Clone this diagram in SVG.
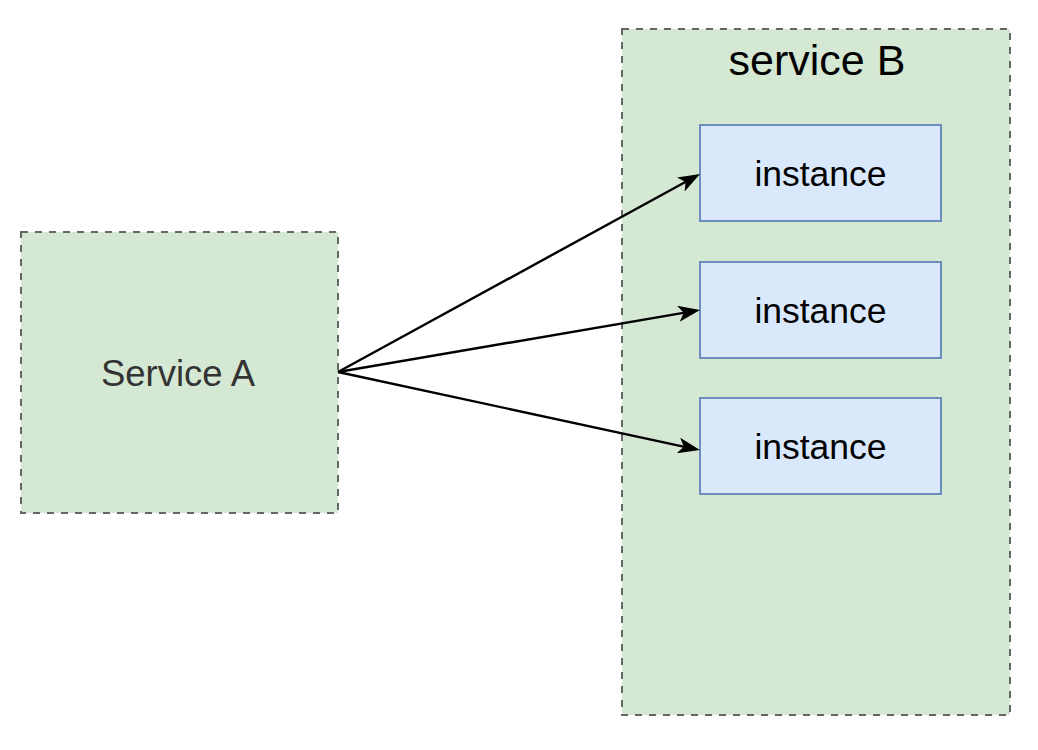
<svg xmlns="http://www.w3.org/2000/svg" width="1038" height="750" viewBox="0 0 1038 750">
  <style>
    .svc { fill: #d5e8d4; stroke: #666666; stroke-width: 2; stroke-dasharray: 7 7; }
    .inst { fill: #dae8fc; stroke: #6c8ebf; stroke-width: 2; }
    .lbl { font-family: "Liberation Sans", Arial, sans-serif; text-anchor: middle; }
    .edge { fill: none; stroke: #000000; stroke-width: 2.4; marker-end: url(#arrow); }
  </style>
  <defs>
    <marker id="arrow" viewBox="0 0 22 16" refX="11" refY="8" markerWidth="22" markerHeight="16" markerUnits="userSpaceOnUse" orient="auto">
      <path d="M0,0 L22,8 L0,16 L5.5,8 Z" fill="#000000"/>
    </marker>
  </defs>
  <rect width="1038" height="750" fill="#ffffff"/>
  <g id="service-a">
    <rect class="svc" x="21" y="232" width="317" height="281"/>
    <text class="lbl" x="178" y="386" font-size="36.5" fill="#333333">Service A</text>
  </g>
  <g id="service-b">
    <rect class="svc" x="622" y="29" width="388" height="686"/>
    <text class="lbl" x="817" y="75" font-size="43" fill="#000000">service B</text>
  </g>
  <g id="instance-1">
    <rect class="inst" x="700" y="125" width="241" height="96"/>
    <text class="lbl" x="820.5" y="186" font-size="35.5" fill="#000000">instance</text>
  </g>
  <g id="instance-2">
    <rect class="inst" x="700" y="262" width="241" height="96"/>
    <text class="lbl" x="820.5" y="323" font-size="35.5" fill="#000000">instance</text>
  </g>
  <g id="instance-3">
    <rect class="inst" x="700" y="398" width="241" height="96"/>
    <text class="lbl" x="820.5" y="459" font-size="35.5" fill="#000000">instance</text>
  </g>
  <g id="connectors">
    <path class="edge" d="M338,372 L690.4,179.3"/>
    <path class="edge" d="M338,372 L689.2,311.9"/>
    <path class="edge" d="M338,372 L689.2,447.8"/>
  </g>
</svg>
